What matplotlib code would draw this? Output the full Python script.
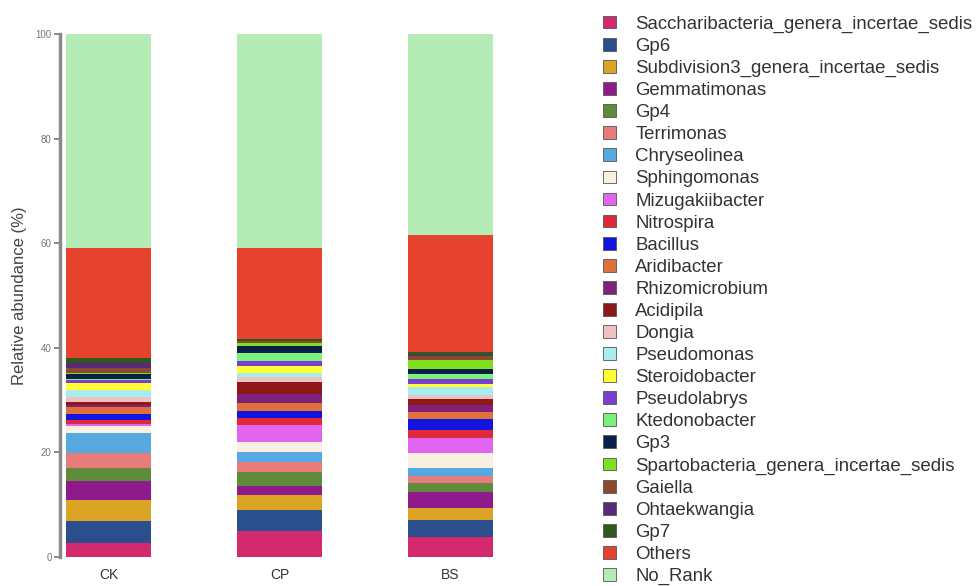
import matplotlib
matplotlib.use("Agg")
import matplotlib.pyplot as plt
from matplotlib.patches import Patch
import numpy as np

plt.rcParams['font.family'] = ['Liberation Sans', 'DejaVu Sans']

samples = ["CK", "CP", "BS"]

taxa = [
    "Saccharibacteria_genera_incertae_sedis", "Gp6", "Subdivision3_genera_incertae_sedis",
    "Gemmatimonas", "Gp4", "Terrimonas", "Chryseolinea", "Sphingomonas", "Mizugakiibacter",
    "Nitrospira", "Bacillus", "Aridibacter", "Rhizomicrobium", "Acidipila", "Dongia",
    "Pseudomonas", "Steroidobacter", "Pseudolabrys", "Ktedonobacter", "Gp3",
    "Spartobacteria_genera_incertae_sedis", "Gaiella", "Ohtaekwangia", "Gp7", "Others", "No_Rank",
]

colors = [
    "#D4296C", "#2B4F8C", "#DBA424", "#8E1A8C", "#5E8C3A", "#E87B7B", "#55A8E0", "#F8F1E2",
    "#E066F0", "#E0283C", "#1414E0", "#E0703A", "#80207A", "#8E1818", "#EEC2C2", "#A8EEF0",
    "#FFFF33", "#7B3FD0", "#7CF07C", "#0A1E4A", "#7FE020", "#8B4A30", "#5A2A7A", "#2F5A1E",
    "#E5432E", "#B5EBB5",
]

# relative abundance (%) per taxon, in the order of `samples`
ck = [2.7, 4.2, 4.0, 3.7, 2.5, 2.8, 3.75, 1.4, 0.45, 0.7, 1.2, 1.3, 0.3, 0.6, 1.0,
      1.3, 1.4, 0.5, 0.3, 0.8, 0.3, 0.9, 1.0, 0.9, 21.0, 41.0]
cp = [5.0, 4.0, 2.9, 1.7, 2.7, 1.9, 1.9, 1.9, 3.15, 1.5, 1.3, 1.4, 1.9, 2.2, 1.0,
      0.7, 1.3, 1.0, 1.6, 1.3, 0.6, 0.3, 0.1, 0.3, 17.35, 41.0]
bs = [3.8, 3.2, 2.3, 3.2, 1.6, 1.4, 1.5, 2.8, 2.9, 1.5, 2.2, 1.3, 1.3, 1.3, 0.6,
      1.6, 0.6, 1.0, 0.9, 1.0, 1.6, 0.9, 0.1, 0.6, 22.3, 38.5]

values = np.array([ck, cp, bs]).T  # taxa x samples

fig = plt.figure(figsize=(9.79, 5.86), dpi=100)
ax = fig.add_axes([60 / 979, 1 - 557 / 586, (499 - 60) / 979, (557 - 34) / 586])

x = np.arange(len(samples))
bottom = np.zeros(len(samples))
handles = []
for name, col, row in zip(taxa, colors, values):
    ax.bar(x, row, width=0.5, bottom=bottom, color=col, edgecolor="none", linewidth=0)
    bottom += row
    handles.append(Patch(facecolor=col, edgecolor="#555555", linewidth=0.6, label=name))

ax.set_xlim(-0.285, 2.285)
ax.set_ylim(0, 100)
ax.set_yticks([0, 20, 40, 60, 80, 100])
ax.set_xticks(x)
ax.set_xticklabels(samples, fontsize=10, color="#333333")
ax.tick_params(axis="x", length=0, pad=8)
ax.tick_params(axis="y", labelsize=7, colors="#777777", length=4, width=1.2, pad=2)
for s in ["top", "right", "bottom"]:
    ax.spines[s].set_visible(False)
ax.spines["left"].set_color("#8a8a8a")
ax.spines["left"].set_linewidth(2.5)
ax.set_ylabel("Relative abundance (%)", fontsize=12, color="#444444", labelpad=6)

fig.legend(handles=handles, loc="upper left", bbox_to_anchor=(603 / 979, 1 - 15.5 / 586),
           frameon=False, fontsize=13.4, handlelength=0.68, handleheight=0.68,
           handletextpad=1.05, labelspacing=0.273, borderaxespad=0, borderpad=0,
           labelcolor="#333333")

fig.savefig("out.png", dpi=100)
